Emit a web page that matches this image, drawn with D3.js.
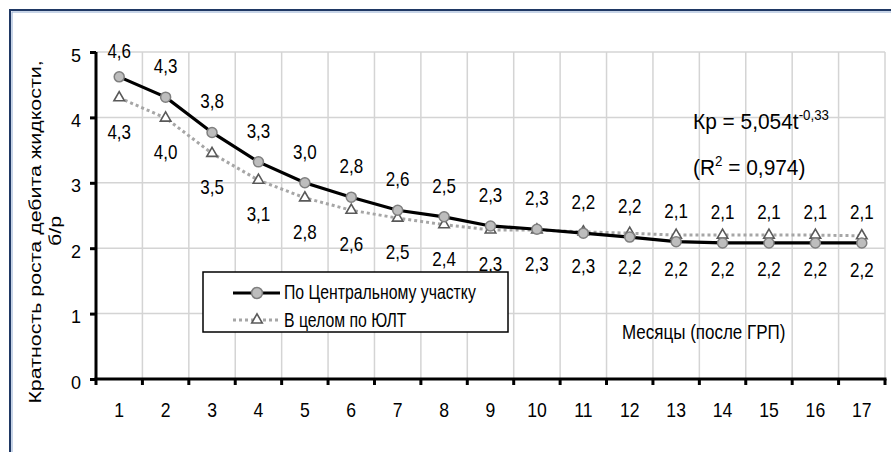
<!DOCTYPE html>
<html><head><meta charset="utf-8">
<script src="https://cdn.jsdelivr.net/npm/d3@7"></script>
<style>
html,body{margin:0;padding:0;background:#fff;}
svg text{font-family:"Liberation Sans Narrow","Arial Narrow","Liberation Sans",Arial,sans-serif;fill:#000;}
</style></head>
<body><svg id="c" width="891" height="452"></svg>
<script>
const months = [1,2,3,4,5,6,7,8,9,10,11,12,13,14,15,16,17];
const central = [4.62,4.31,3.77,3.32,3.00,2.78,2.58,2.48,2.34,2.29,2.23,2.17,2.10,2.08,2.08,2.08,2.08];
const centralLabels = ["4,6","4,3","3,8","3,3","3,0","2,8","2,6","2,5","2,3","2,3","2,2","2,2","2,1","2,1","2,1","2,1","2,1"];
const yult = [4.30,3.99,3.45,3.04,2.77,2.58,2.46,2.36,2.28,2.28,2.25,2.23,2.20,2.20,2.20,2.20,2.19];
const yultLabels = ["4,3","4,0","3,5","3,1","2,8","2,6","2,5","2,4","2,3","2,3","2,3","2,2","2,2","2,2","2,2","2,2","2,2"];
const yTicks = [0,1,2,3,4,5];
const seriesNames = ["По Центральному участку","В целом по ЮЛТ"];

const SX = 0.85;
const svg = d3.select("#c");
// outer frame
svg.append("rect").attr("x",10).attr("y",10).attr("width",900).attr("height",500)
  .attr("fill","none").attr("stroke","#1f3864").attr("stroke-width",2);
svg.append("rect").attr("x",12).attr("y",12).attr("width",900).attr("height",500)
  .attr("fill","none").attr("stroke","#8fa9cf").attr("stroke-width",1);

const L=96,R=885,T=52,B=379;
const x = d3.scaleBand().domain(months).range([L,R]);
const y = d3.scaleLinear().domain([0,5]).range([B,T]);
const cx = d => x(d)+x.bandwidth()/2;

function txt(parent, tx, ty, str, size, sx, anchor){
  return parent.append("text").attr("transform",`translate(${tx},${ty}) scale(${sx},1)`)
    .attr("text-anchor",anchor||"start").attr("font-size",size).text(str);
}

const g = svg.append("g");
// grid
g.selectAll(".hg").data(yTicks.filter(v=>v>0)).join("line")
  .attr("x1",L).attr("x2",R).attr("y1",d=>y(d)).attr("y2",d=>y(d))
  .attr("stroke","#d4d4d4").attr("stroke-width",1.5);
const bounds = months.map(m=>x(m)+x.bandwidth());
g.selectAll(".vg").data(bounds).join("line")
  .attr("x1",d=>d).attr("x2",d=>d).attr("y1",T).attr("y2",B)
  .attr("stroke","#d4d4d4").attr("stroke-width",1.5);

// axes
const yAxis = d3.axisLeft(y).tickValues(yTicks).tickSize(6).tickFormat(d3.format("d"));
const ya = svg.append("g").attr("transform",`translate(${L},0)`).call(yAxis);
ya.select(".domain").attr("stroke","#000").attr("stroke-width",3).attr("d",`M0,${T}V${B}`);
ya.selectAll(".tick line").attr("stroke","#000").attr("stroke-width",3);
ya.selectAll(".tick text").attr("font-size",18).attr("x",-15).attr("dy","0.5em").style("font-family",null);

const xa = svg.append("g").attr("transform",`translate(0,${B})`);
xa.append("line").attr("x1",L-1.5).attr("x2",R+1.5).attr("y1",0).attr("y2",0).attr("stroke","#000").attr("stroke-width",3);
xa.selectAll(".xt").data([L].concat(bounds)).join("line")
  .attr("x1",d=>d).attr("x2",d=>d).attr("y1",0).attr("y2",6).attr("stroke","#000").attr("stroke-width",3);
xa.selectAll(".xl").data(months).join("text")
  .attr("transform",d=>`translate(${cx(d)},38) scale(0.88,1)`).attr("text-anchor","middle").attr("font-size",20).text(d=>d);

// y title
svg.append("text").attr("transform",`translate(41,232) rotate(-90) scale(1,0.78)`).attr("text-anchor","middle")
  .attr("font-size",21.4).text("Кратность роста дебита жидкости,");
svg.append("text").attr("transform",`translate(61,231) rotate(-90) scale(1,0.78)`).attr("text-anchor","middle")
  .attr("font-size",21.4).text("б/р");

// lines
const line = d3.line().x((d,i)=>cx(months[i])).y(d=>y(d));
svg.append("path").datum(yult).attr("d",line).attr("fill","none")
  .attr("stroke","#a6a6a6").attr("stroke-width",3).attr("stroke-dasharray","3,3");
svg.append("path").datum(central).attr("d",line).attr("fill","none")
  .attr("stroke","#000").attr("stroke-width",3.2);

const tri = d3.symbol().type(d3.symbolTriangle).size(48);
svg.selectAll(".tri").data(yult).join("path")
  .attr("d",tri).attr("transform",(d,i)=>`translate(${cx(months[i])},${y(d)})`)
  .attr("fill","#fff").attr("stroke","#595959").attr("stroke-width",1.6);
svg.selectAll(".cir").data(central).join("circle")
  .attr("cx",(d,i)=>cx(months[i])).attr("cy",d=>y(d)).attr("r",5)
  .attr("fill","#bdbdbd").attr("stroke","#7f7f7f").attr("stroke-width",1.5);

// labels
svg.selectAll(".lc").data(central).join("text")
  .attr("transform",(d,i)=>`translate(${cx(months[i])},${Math.max(y(d)-24,58)}) scale(${SX},1)`)
  .attr("text-anchor","middle").attr("font-size",20).text((d,i)=>centralLabels[i]);
svg.selectAll(".ly").data(yult).join("text")
  .attr("transform",(d,i)=>`translate(${cx(months[i])},${y(d)+41}) scale(${SX},1)`)
  .attr("text-anchor","middle").attr("font-size",20).text((d,i)=>yultLabels[i]);

// legend
const lg = svg.append("g");
lg.append("rect").attr("x",203).attr("y",272).attr("width",305).attr("height",60)
  .attr("fill","#fff").attr("stroke","#000").attr("stroke-width",1.5);
lg.append("line").attr("x1",233).attr("x2",280).attr("y1",293).attr("y2",293).attr("stroke","#000").attr("stroke-width",3.2);
lg.append("circle").attr("cx",257).attr("cy",293).attr("r",5.5).attr("fill","#bdbdbd").attr("stroke","#7f7f7f").attr("stroke-width",1.5);
lg.append("line").attr("x1",233).attr("x2",280).attr("y1",320).attr("y2",320).attr("stroke","#a6a6a6").attr("stroke-width",3).attr("stroke-dasharray","3,3");
lg.append("path").attr("d",tri).attr("transform","translate(257,320)").attr("fill","#fff").attr("stroke","#595959").attr("stroke-width",1.6);
txt(lg,284,299,seriesNames[0],20,0.79);
txt(lg,284,327,seriesNames[1],20,0.79);

// annotations
const eq = svg.append("text").attr("transform","translate(693,129) scale(0.95,1)").attr("font-size",22);
eq.append("tspan").text("Кр = 5,054t");
eq.append("tspan").attr("dy",-9).attr("font-size",14).text("-0,33");
const r2 = svg.append("text").attr("transform","translate(693,175) scale(0.95,1)").attr("font-size",22);
r2.append("tspan").text("(R");
r2.append("tspan").attr("dy",-9).attr("font-size",14).text("2");
r2.append("tspan").attr("dy",9).text(" = 0,974)");
txt(svg,622,339,"Месяцы (после ГРП)",20,0.85);
</script></body></html>
